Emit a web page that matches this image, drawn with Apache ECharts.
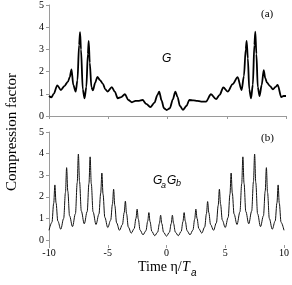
<!DOCTYPE html>
<html><head><meta charset="utf-8">
<script src="https://cdn.jsdelivr.net/npm/echarts@6/dist/echarts.min.js"></script>
<style>html,body{margin:0;padding:0;background:#fff}#c{width:292px;height:285px}</style>
</head><body><div id="c"></div>
<script>
// Panel (a): G
var topEta = [-10,-9.8,-9.6,-9.3,-9.0,-8.7,-8.4,-8.25,-8.1,-7.95,-7.75,-7.6,-7.46,-7.38,-7.3,-7.15,-7.0,-6.85,-6.72,-6.65,-6.56,-6.42,-6.3,-6.1,-5.92,-5.7,-5.45,-5.25,-5.05,-4.7,-4.45,-4.2,-3.9,-3.6,-3.3,-3.0,-2.7,-2.4,-2.1,-1.8,-1.45,-1.1,-0.85,-0.7,-0.5,-0.3,-0.07,0.2,0.45,0.66,0.85,1.05,1.3,1.6,1.84,2.2,2.5,2.83,3.25,3.67,4.1,4.4,4.71,5.08,5.5,5.92,6.25,6.45,6.6,6.68,6.78,6.9,7.05,7.2,7.33,7.41,7.5,7.62,7.77,7.95,8.12,8.25,8.4,8.65,8.9,9.1,9.3,9.6,9.8,10];
var topG = [0.9,0.84,1.0,1.38,1.17,1.35,1.55,1.75,2.1,1.4,1.1,1.6,3.2,3.78,3.0,1.2,0.8,1.3,2.8,3.38,2.4,1.3,1.15,1.5,1.76,1.62,1.45,1.2,1.1,1.3,1.1,0.8,0.85,0.98,0.72,0.62,0.68,0.68,0.72,0.55,0.4,0.6,0.95,1.1,0.7,0.35,0.27,0.35,0.75,1.1,0.85,0.45,0.28,0.45,0.72,0.7,0.68,0.65,0.65,0.98,0.76,0.95,1.29,1.1,1.44,1.75,1.17,1.8,3.0,3.38,2.6,1.2,0.8,1.4,3.2,3.8,2.8,1.3,0.9,1.4,2.07,1.7,1.5,1.35,1.2,1.3,1.4,0.85,0.9,0.9];
// Panel (b): GaGb
var botEta = [-10,-9.75,-9.6,-9.5,-9.4,-9.25,-9,-8.75,-8.6,-8.5,-8.4,-8.25,-8,-7.75,-7.6,-7.5,-7.4,-7.25,-7,-6.75,-6.6,-6.5,-6.4,-6.25,-6,-5.75,-5.6,-5.5,-5.4,-5.25,-5,-4.75,-4.6,-4.5,-4.4,-4.25,-4,-3.75,-3.6,-3.5,-3.4,-3.25,-3,-2.75,-2.6,-2.5,-2.4,-2.25,-2,-1.75,-1.6,-1.5,-1.4,-1.25,-1,-0.75,-0.6,-0.5,-0.4,-0.25,0,0.25,0.4,0.5,0.6,0.75,1,1.25,1.4,1.5,1.6,1.75,2,2.25,2.4,2.5,2.6,2.75,3,3.25,3.4,3.5,3.6,3.75,4,4.25,4.4,4.5,4.6,4.75,5,5.25,5.4,5.5,5.6,5.75,6,6.25,6.4,6.5,6.6,6.75,7,7.25,7.4,7.5,7.6,7.75,8,8.25,8.4,8.5,8.6,8.75,9,9.25,9.4,9.5,9.6,9.75,10];
var botGG = [0.45,0.82,1.7,2.55,1.72,0.88,0.5,1.0,2.2,3.35,2.26,1.12,0.62,1.22,2.65,3.98,2.7,1.34,0.75,1.32,2.62,3.85,2.6,1.3,0.72,1.2,2.17,3.1,2.12,1.05,0.58,0.92,1.66,2.35,1.6,0.8,0.45,0.72,1.27,1.8,1.22,0.6,0.32,0.53,1.0,1.43,0.97,0.46,0.24,0.43,0.87,1.27,0.85,0.4,0.2,0.37,0.77,1.15,0.76,0.36,0.18,0.36,0.76,1.15,0.77,0.37,0.2,0.4,0.85,1.27,0.87,0.43,0.24,0.46,0.97,1.43,1.0,0.53,0.32,0.6,1.22,1.78,1.27,0.72,0.45,0.8,1.6,2.35,1.66,0.92,0.58,1.05,2.12,3.1,2.17,1.2,0.72,1.3,2.6,3.85,2.62,1.32,0.75,1.34,2.7,3.98,2.65,1.22,0.62,1.12,2.26,3.35,2.2,1.0,0.5,0.88,1.72,2.55,1.7,0.82,0.45];
var yTicks = [0,1,2,3,4,5];

var serif = '"Liberation Serif", "Times New Roman", serif';
var sans = '"Liberation Sans", Arial, sans-serif';
var chart = echarts.init(document.getElementById('c'), null, {renderer:'canvas'});
function pairs(a,b){return a.map(function(v,i){return [v,b[i]];});}
var axCol = '#9a9a9a';
var lab = {fontSize:10, fontFamily:serif, color:'#000'};
chart.setOption({
  animation:false,
  grid:[{left:49,right:6,top:5,height:111},{left:49,right:6,top:132,height:113}],
  xAxis:[
    {gridIndex:0,type:'value',min:-10,max:10,interval:5,
     axisLine:{onZero:false,lineStyle:{color:axCol,width:1}},axisTick:{show:true,length:3,lineStyle:{color:axCol}},
     axisLabel:{show:false},splitLine:{show:false}},
    {gridIndex:1,type:'value',min:-10,max:10,interval:5,
     axisLine:{show:false,onZero:false},axisTick:{show:true,length:3,lineStyle:{color:axCol}},
     axisLabel:Object.assign({margin:3},lab),splitLine:{show:false}}
  ],
  yAxis:[
    {gridIndex:0,type:'value',min:0,max:5,interval:1,
     axisLine:{show:true,onZero:false,lineStyle:{color:axCol}},axisTick:{show:true,length:3,lineStyle:{color:axCol}},
     axisLabel:Object.assign({margin:5},lab),splitLine:{show:false}},
    {gridIndex:1,type:'value',min:-0.23,max:5,
     axisLine:{show:true,onZero:false,lineStyle:{color:axCol}},
     axisTick:{show:true,length:3,lineStyle:{color:axCol},customValues:yTicks},
     axisLabel:Object.assign({margin:5,customValues:yTicks},lab),splitLine:{show:false}}
  ],
  series:[
    {type:'line',xAxisIndex:0,yAxisIndex:0,data:pairs(topEta,topG),symbol:'none',smooth:0.3,smoothMonotone:'x',
     lineStyle:{color:'#000',width:1.8}},
    {type:'line',xAxisIndex:1,yAxisIndex:1,data:pairs(botEta,botGG),symbol:'none',smooth:0.35,smoothMonotone:'x',
     lineStyle:{color:'#111',width:1}}
  ],
  graphic:[
    {type:'text',left:261,top:9,style:{text:'(a)',font:'11px '+serif,fill:'#000'}},
    {type:'text',left:261,top:133,style:{text:'(b)',font:'11px '+serif,fill:'#000'}},
    {type:'text',left:162,top:53,style:{text:'G',font:'italic 12px '+sans,fill:'#000'}},
    {type:'text',left:153,top:175,style:{text:'G',font:'italic 12px '+sans,fill:'#000'}},
    {type:'text',left:161,top:181,style:{text:'a',font:'italic 9px '+sans,fill:'#000'}},
    {type:'text',left:167,top:175,style:{text:'G',font:'italic 12px '+sans,fill:'#000'}},
    {type:'text',left:176,top:179,style:{text:'b',font:'italic 9px '+sans,fill:'#000'}},
    {type:'text',left:138,top:260,style:{text:'Time η/',font:'14px '+serif,fill:'#000'}},
    {type:'text',left:182,top:260,style:{text:'T',font:'italic 14px '+serif,fill:'#000'}},
    {type:'text',left:191,top:268,style:{text:'a',font:'italic 10px '+sans,fill:'#000'}},
    {type:'text',x:12,y:132,rotation:Math.PI/2,style:{text:'Compression factor',font:'15px '+serif,fill:'#000',align:'center',verticalAlign:'middle'}}
  ]
});
</script></body></html>
